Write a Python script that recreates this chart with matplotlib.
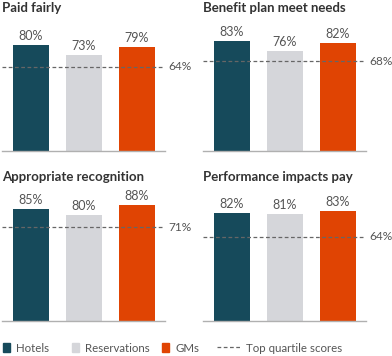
import numpy as np
import matplotlib.pyplot as plt
from matplotlib.patches import Patch
from matplotlib.lines import Line2D

plt.rcParams['font.family'] = ['Lato', 'DejaVu Sans']

titles = ["Paid fairly", "Benefit plan meet needs",
          "Appropriate recognition", "Performance impacts pay"]
groups = ["Hotels", "Reservations", "GMs"]
hotels = [80, 83, 85, 82]
reservations = [73, 76, 80, 81]
gms = [79, 82, 88, 83]
top_quartile = [64, 68, 71, 64]

colors = ["#164a5b", "#d5d6da", "#e04403"]
txt = "#555555"
W, H = 392, 356

fig = plt.figure(figsize=(W / 100, H / 100), dpi=100)

# panel boxes in pixels: left, baseline y
boxes = [(2, 151), (203, 151), (2, 321), (203, 321)]
title_y = [8, 8, 177, 177]
aw, ah = 163, 132

for i, (px, py) in enumerate(boxes):
    ax = fig.add_axes([px / W, 1 - py / H, aw / W, ah / H])
    vals = [hotels[i], reservations[i], gms[i]]
    x = np.arange(3)
    ax.bar(x, vals, width=0.68, color=colors)
    for xi, v in zip(x, vals):
        ax.text(xi, v + 2.3, f"{v}%", ha="center", va="bottom",
                fontsize=9, color=txt)
    ax.axhline(top_quartile[i], color="#666666", lw=0.9, ls=(0, (3, 2)))
    ax.text(1.018, top_quartile[i], f"{top_quartile[i]}%", transform=ax.get_yaxis_transform(),
            ha="left", va="center", fontsize=8.6, color=txt)
    ax.set_xlim(-0.547, 2.53)
    ax.set_ylim(0, 100)
    for s in ["top", "right", "left"]:
        ax.spines[s].set_visible(False)
    ax.spines["bottom"].set_color("#b0b0b0")
    ax.spines["bottom"].set_linewidth(1)
    ax.set_xticks([])
    ax.set_yticks([])
    ax.patch.set_alpha(0)
    fig.text(px / W, 1 - title_y[i] / H, titles[i], fontsize=9.5,
             fontweight="bold", color="#333333", ha="left", va="center")

# legend entries placed one by one
handles = [Patch(color=c) for c in colors]
handles.append(Line2D([0], [0], color="#666666", lw=0.9, ls=(0, (3, 2))))
labels = groups + ["Top quartile scores"]
leg_x = [3, 72, 162, 217]
for h, lab, lx in zip(handles, labels, leg_x):
    dashed = isinstance(h, Line2D)
    fig.legend([h], [lab], loc="center left",
               bbox_to_anchor=(lx / W, 1 - 348 / H), frameon=False,
               fontsize=8.3, labelcolor=txt,
               handlelength=2.1 if dashed else 0.65, handleheight=0.85,
               handletextpad=0.4 if dashed else 0.5,
               borderaxespad=0, borderpad=0)

fig.savefig("out.png", dpi=100)
